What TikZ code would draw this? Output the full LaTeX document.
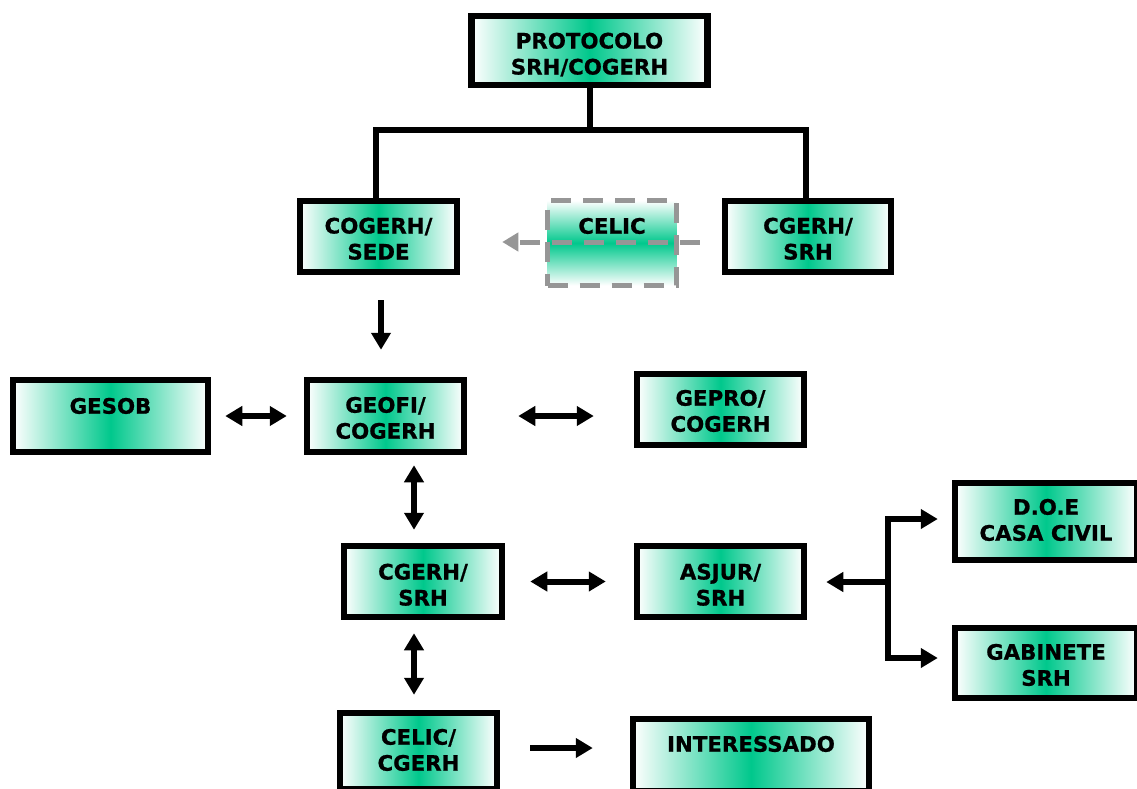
\documentclass[tikz,border=0pt]{standalone}
\usepackage{fontspec}
\setmainfont{DejaVu Sans}[BoldFeatures={FakeBold=0.8}]
\usetikzlibrary{arrows.meta,calc}
\definecolor{tg}{RGB}{0,200,140}
\definecolor{dg}{RGB}{150,150,150}
\newcommand\bxf{\fontsize{21.3}{26}\selectfont\bfseries}
\newcommand\bt[2][-10pt]{\raisebox{#1}[0pt][0pt]{\begin{tabular}{@{}c@{}}#2\end{tabular}}}
\tikzset{
  box/.style={draw=black, line width=6.5pt, line join=miter, left color=white, right color=white, middle color=tg, font=\bxf, inner sep=0pt},
  vbox/.style={draw=dg, line width=5pt, dash pattern=on 20pt off 12pt, top color=white, bottom color=white, middle color=tg, font=\bxf, inner sep=0pt},
  tree/.style={line width=6pt, line join=miter},
  arr/.style={line width=6pt, -{Triangle[length=17pt,width=19pt]}},
  darr/.style={line width=6pt, {Triangle[length=17pt,width=19pt]}-{Triangle[length=17pt,width=19pt]}},
  garr/.style={draw=dg, line width=5pt, dash pattern=on 20pt off 12pt, -{Triangle[length=16pt,width=18pt,fill=dg]}},
}
\begin{document}
\begin{tikzpicture}[x=1pt,y=-1pt]
\useasboundingbox (0,0) rectangle (1137,789);
\clip (0,0) rectangle (1137,789);
\fill[white] (0,0) rectangle (1137,789);
% nodes
\node[box, minimum width=236pt, minimum height=69pt] (proto) at (589.5,50.5) {\bt[-11pt]{PROTOCOLO\\SRH/COGERH}};
\node[box, minimum width=157pt, minimum height=71pt] (cogerh) at (378.5,236.5) {\bt{COGERH/\\SEDE}};
\node[vbox, minimum width=129pt, minimum height=85pt] (celic) at (612,243) {\bt[-3.7pt]{CELIC\\\phantom{C}}};
\node[box, minimum width=166pt, minimum height=71pt] (cgerhA) at (808,236.5) {\bt{CGERH/\\SRH}};
\node[box, minimum width=195pt, minimum height=72pt] (gesob) at (110.5,416) {\bt[-10.7pt]{GESOB\\\phantom{G}}};
\node[box, minimum width=157pt, minimum height=72pt] (geofi) at (385.5,416) {\bt[-9.7pt]{GEOFI/\\COGERH}};
\node[box, minimum width=167pt, minimum height=71pt] (gepro) at (720.5,409.5) {\bt[-9.2pt]{GEPRO/\\COGERH}};
\node[box, minimum width=158pt, minimum height=71pt] (cgerhB) at (423,581.5) {\bt[-11pt]{CGERH/\\SRH}};
\node[box, minimum width=167pt, minimum height=71pt] (asjur) at (720.5,581.5) {\bt[-11pt]{ASJUR/\\SRH}};
\node[box, minimum width=182pt, minimum height=77pt] (doe) at (1046,521.5) {\bt[-6.2pt]{D.O.E\\CASA CIVIL}};
\node[box, minimum width=182pt, minimum height=70pt] (gab) at (1046,663) {\bt[-9.7pt]{GABINETE\\SRH}};
\node[box, minimum width=157pt, minimum height=76pt] (celic2) at (418.5,751) {\bt[-6.7pt]{CELIC/\\CGERH}};
\node[box, minimum width=236pt, minimum height=72pt] (inter) at (751,755) {\bt[-9.7pt]{INTERESSADO\\\phantom{I}}};
% helper coordinates
\coordinate (bus) at (589.5,130);
\coordinate (xa) at (381,0);
\coordinate (xb) at (414,0);
\coordinate (yi) at (0,748);
\coordinate (fork) at (888,582);
% tree
\draw[tree] (proto.south) -- (bus);
\draw[tree] ([xshift=-2.5pt]cogerh.north) |- (bus) -| ([xshift=-2pt]cgerhA.north);
% gray dashed arrow through CELIC
\draw[garr, shorten <=22pt, shorten >=42pt] ([yshift=-5.5pt]cgerhA.west) -- ([yshift=-5.5pt]cgerhA.west -| cogerh.east);
% arrows
\draw[arr, shorten <=25pt, shorten >=27pt] (cogerh.south -| xa) -- (geofi.north -| xa);
\draw[darr, shorten <=14pt, shorten >=17pt] (gesob.east) -- (geofi.west);
\draw[darr, shorten <=51pt, shorten >=40pt] (geofi.east) -- (geofi.east -| gepro.west);
\draw[darr, shorten <=10pt, shorten >=13pt] (geofi.south -| xb) -- (cgerhB.north -| xb);
\draw[darr, shorten <=25pt, shorten >=28pt] (cgerhB.east) -- (asjur.west);
\draw[darr, shorten <=13pt, shorten >=15pt] (cgerhB.south -| xb) -- (celic2.north -| xb);
\draw[arr, shorten <=30pt, shorten >=37pt] (celic2.east |- yi) -- (inter.west |- yi);
\draw[arr, shorten >=19pt] (fork) -- (asjur.east |- fork);
\draw[arr, line join=miter, shorten >=14pt] ([yshift=-3pt]fork) |- ([yshift=2.5pt]doe.west);
\draw[arr, line join=miter, shorten >=14pt] ([yshift=3pt]fork) |- ([yshift=5pt]gab.west);
\end{tikzpicture}
\end{document}
